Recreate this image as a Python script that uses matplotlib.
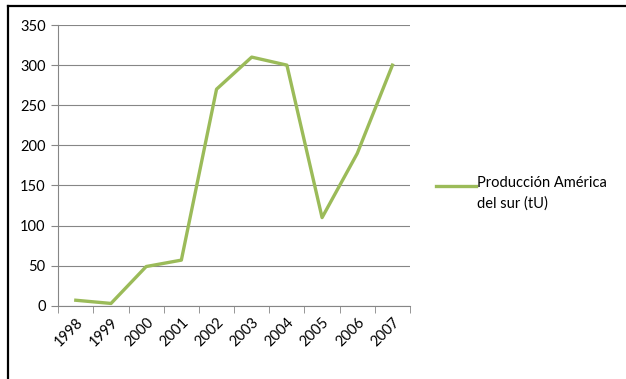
import numpy as np
import matplotlib.pyplot as plt
from matplotlib.lines import Line2D
from matplotlib.legend_handler import HandlerLine2D

years = ['1998', '1999', '2000', '2001', '2002', '2003', '2004', '2005', '2006', '2007']
produccion = [7, 3, 49, 57, 270, 310, 300, 110, 190, 300]

plt.rcParams['font.family'] = ['Lato', 'DejaVu Sans']


# legend line sits on the first line of the two-line label, like Excel does
class TopLineHandler(HandlerLine2D):
    def create_artists(self, legend, orig_handle, xdescent, ydescent, width, height, fontsize, trans):
        return super().create_artists(legend, orig_handle, xdescent, ydescent - 1.05 * fontsize,
                                      width, height, fontsize, trans)


fig = plt.figure(figsize=(6.26, 3.79), dpi=100)
ax = fig.add_axes([0.093, 0.193, 0.562, 0.741])

x = np.arange(len(years))
line, = ax.plot(x, produccion, color='#9BBB59', linewidth=2.4, label='Producción América\ndel sur (tU)')

ax.set_xlim(-0.5, len(years) - 0.5)
ax.set_ylim(0, 350)
ax.set_yticks(range(0, 351, 50))
ax.set_xticks(x)
ax.set_xticklabels(years, rotation=45, ha='right', va='top', rotation_mode='anchor')
ax.set_xticks(np.arange(-0.5, len(years), 1), minor=True)
ax.tick_params(axis='x', which='major', length=0, pad=7, labelsize=10.5)
ax.tick_params(axis='x', which='minor', length=5, color='#868686', direction='out')
ax.tick_params(axis='y', length=5, color='#868686', labelsize=10.5, pad=4)

ax.grid(axis='y', color='#868686', linewidth=0.8)
ax.set_axisbelow(True)
for s in ['top', 'right']:
    ax.spines[s].set_visible(False)
for s in ['left', 'bottom']:
    ax.spines[s].set_color('#868686')
    ax.spines[s].set_linewidth(0.8)

leg = ax.legend(loc='center left', bbox_to_anchor=(1.037, 0.40), frameon=False,
                fontsize=10.5, handlelength=2.7, handletextpad=0.1,
                handler_map={line: TopLineHandler()})
leg.get_texts()[0].set_linespacing(1.55)

# outer frame
fig.add_artist(Line2D([0.012, 0.012], [0, 0.984], transform=fig.transFigure, color='black', linewidth=1.6))
fig.add_artist(Line2D([0.012, 1], [0.984, 0.984], transform=fig.transFigure, color='black', linewidth=1.6))

fig.savefig('out.png', dpi=100)
